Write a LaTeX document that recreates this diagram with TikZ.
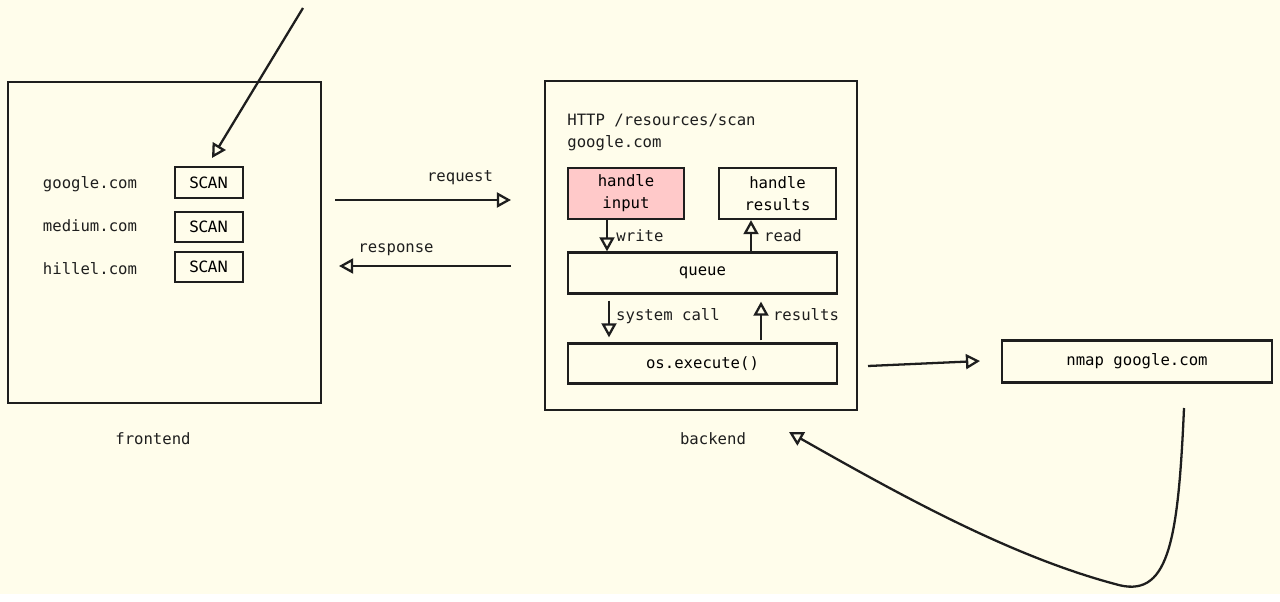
\documentclass[tikz,border=0pt]{standalone}
\usepackage{fontspec}
\setmonofont{DejaVu Sans Mono}
\newfontfamily\scanfont{Fira Sans}
\usetikzlibrary{arrows.meta,positioning}

\definecolor{paper}{HTML}{FFFDEB}
\definecolor{inred}{HTML}{FFC9C9}
\definecolor{ink}{HTML}{1E1E1E}
\newcommand{\codefont}{\ttfamily\fontsize{8.9}{12.4}\selectfont}

\tikzset{
  box/.style={draw=ink, line width=1.3pt, inner sep=0pt, font=\codefont, align=center},
  scanbox/.style={box, minimum width=1.36cm, minimum height=0.61cm, font=\scanfont\fontsize{9.4}{11}\selectfont},
  arr/.style={draw=ink, line width=1.3pt, -{Triangle[open, length=8pt, width=8.5pt]}},
  lbl/.style={font=\codefont, text=ink, inner sep=0pt, yshift=-0.04cm},
}

\begin{document}
\begin{tikzpicture}[x=0.02cm, y=-0.02cm]
\fill[paper] (0,0) rectangle (1280,594);

% Frontend
\node[box, minimum width=6.26cm, minimum height=6.42cm] (front) at (164.5,242.5) {};
\node[lbl] (frontlbl) at (153,437) {frontend};
\node[lbl] (site1) at (90,182) {google.com};
\node[lbl] (site2) at (90,224) {medium.com};
\node[lbl] (site3) at (90,267) {hillel.com};
\node[scanbox] (scan1) at (209,182.5) {SCAN};
\node[scanbox] (scan2) at (209,227) {SCAN};
\node[scanbox] (scan3) at (209,267) {SCAN};
\coordinate (drop) at (303,8);
\coordinate (droptip) at (212,158);
\draw[arr] (drop) -- (droptip);

% Request / response
\coordinate (rqa) at (335,200);
\coordinate (rqb) at (511,200);
\coordinate (rsa) at (511,266);
\coordinate (rsb) at (339,266);
\draw[arr] (rqa) -- (rqb);
\draw[arr] (rsa) -- (rsb);
\node[lbl] (reqlbl) at (460,176) {request};
\node[lbl] (reslbl) at (396,248) {response};

% Backend
\node[box, minimum width=6.24cm, minimum height=6.58cm] (back) at (701,245.5) {};
\node[lbl] (backlbl) at (713,437) {backend};
\node[lbl, anchor=west, align=left] (route) at (567,130.5) {HTTP /resources/scan\\google.com};
\node[box, fill=inred, minimum width=2.32cm, minimum height=1.02cm] (hin) at (626,193.5) {handle\\input};
\node[box, minimum width=2.34cm, minimum height=1.02cm] (hres) at (777.5,193.5) {handle\\results};
\node[box, minimum width=5.38cm, minimum height=0.82cm] (queue) at (702.5,273) {queue};
\node[box, minimum width=5.38cm, minimum height=0.8cm] (exec) at (702.5,363.5) {os.execute()};

\coordinate (wx) at (607,0);
\coordinate (rx) at (751,0);
\coordinate (sx) at (609,0);
\coordinate (ox) at (761,0);
\draw[arr] (hin.south -| wx) -- (queue.north -| wx);
\draw[arr] (queue.north -| rx) -- (hres.south -| rx);
\draw[arr, shorten <=0.12cm, shorten >=0.1cm] (queue.south -| sx) -- (exec.north -| sx);
\draw[arr, shorten <=0.04cm, shorten >=0.14cm] (exec.north -| ox) -- (queue.south -| ox);
\node[lbl] (wlbl) at (640,234) {write};
\node[lbl] (rlbl) at (783,234) {read};
\node[lbl] (slbl) at (668,314) {system call};
\node[lbl] (olbl) at (806,313) {results};

% Shell
\node[box, minimum width=5.4cm, minimum height=0.84cm] (nmap) at (1137,361.5) {nmap google.com};
\coordinate (exa) at (868,366);
\coordinate (exb) at (980,361);
\draw[arr] (exa) -- (exb);
\coordinate (nback) at (1184,408);
\coordinate (backtip) at (789,432);
\draw[arr] (nback) .. controls (1178,545) and (1168,600) .. (1115,584)
  .. controls (1010,556) and (900,495) .. (backtip);
\end{tikzpicture}
\end{document}
